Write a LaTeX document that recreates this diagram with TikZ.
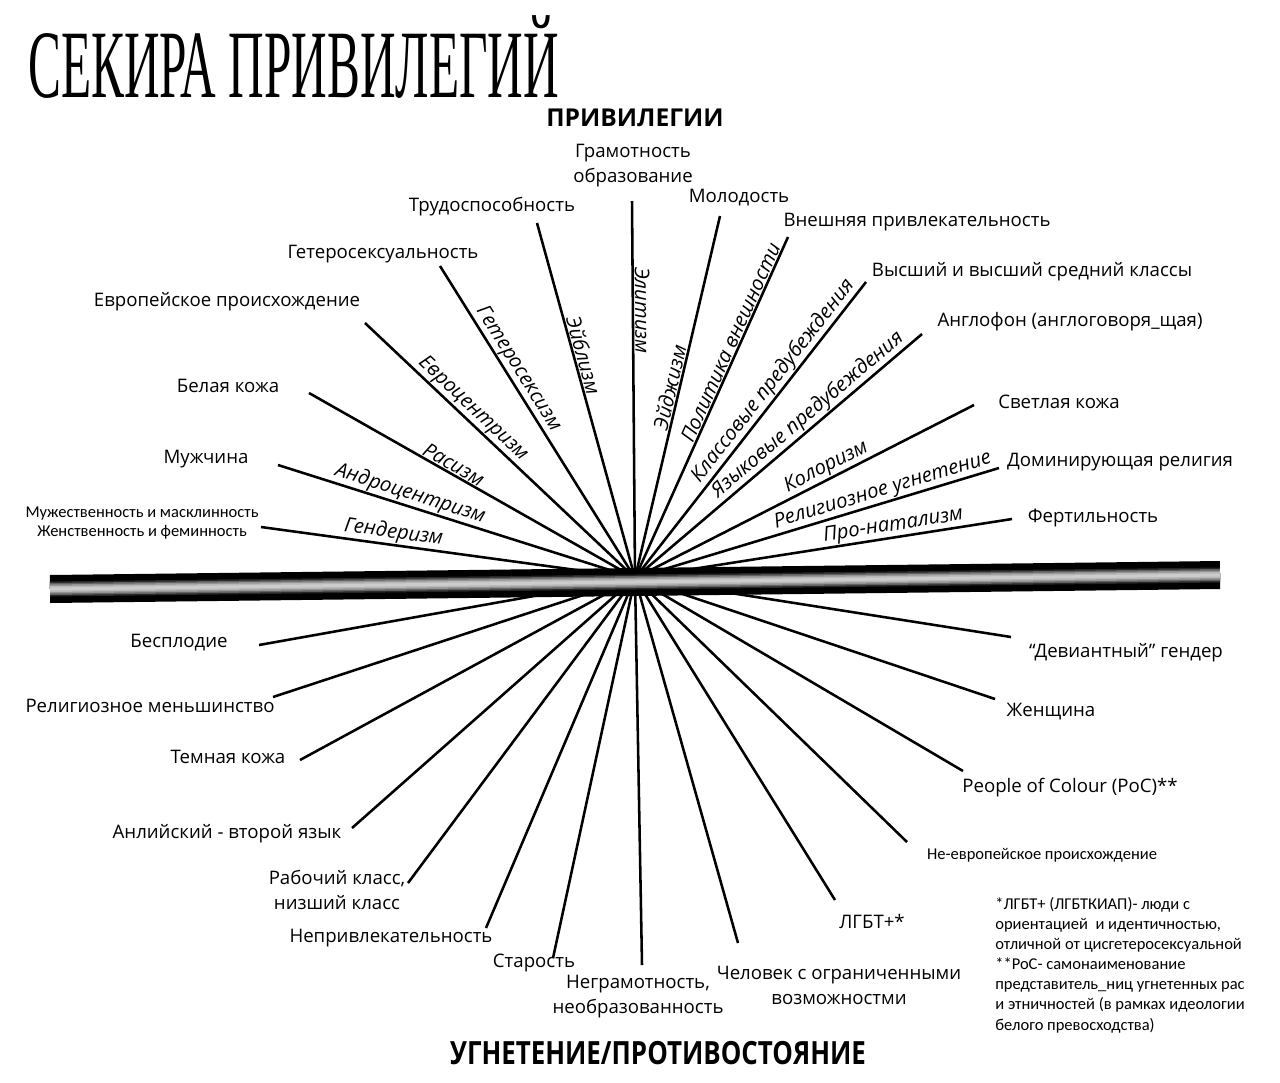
\documentclass[tikz,border=0pt]{standalone}
\usepackage{fontspec}
\setmainfont{Open Sans}
\newfontfamily\notefont{Carlito}
\newfontfamily\titlefont{Liberation Serif}
\usetikzlibrary{positioning}

\tikzset{
  spoke/.style={line width=1.45pt, black},
  lbl/.style={font=\fontsize{10.6}{14.2}\selectfont, inner sep=0pt, align=center},
  note/.style={font=\notefont\fontsize{9.4}{11.3}\selectfont, inner sep=0pt, align=center},
  ism/.style={font=\itshape\fontsize{11.5}{13}\selectfont, sloped, above, inner sep=1pt},
  head/.style={font=\bfseries\fontsize{14}{16}\selectfont, inner sep=0pt},
}

\begin{document}
\begin{tikzpicture}[x=0.02cm, y=-0.02cm]
  \useasboundingbox[fill=white] (0,0) rectangle (1280,1082);

  % Hub and spoke ends
  \coordinate (hub) at (635,578);
  \coordinate (eGend)   at (261,527);
  \coordinate (eMan)    at (278,465);
  \coordinate (eWhite)  at (309,393);
  \coordinate (eEuro)   at (365,323);
  \coordinate (eHetero) at (440,266);
  \coordinate (eAble)   at (537,223);
  \coordinate (eGram)   at (632,201);
  \coordinate (eYoung)  at (720,216);
  \coordinate (eBeauty) at (788,237);
  \coordinate (eClass)  at (866,282);
  \coordinate (eAnglo)  at (922,334);
  \coordinate (eLight)  at (974,405);
  \coordinate (eRelig)  at (999,468);
  \coordinate (eFert)   at (1012,519);
  \coordinate (eInfert) at (259,645);
  \coordinate (eMinor)  at (273,697);
  \coordinate (eDark)   at (300,760);
  \coordinate (eSecond) at (352,828);
  \coordinate (eWork)   at (408,883);
  \coordinate (eUgly)   at (486,928);
  \coordinate (eOld)    at (553,958);
  \coordinate (eIllit)  at (642,965);
  \coordinate (eDisab)  at (738,943);
  \coordinate (eLgbt)   at (835,900);
  \coordinate (eNonEu)  at (907,842);
  \coordinate (ePoc)    at (963,771);
  \coordinate (eWoman)  at (995,699);
  \coordinate (eDev)    at (1011,637);
  \coordinate (barL) at (50,589);
  \coordinate (barR) at (1220,575);

  % Title and headings
  \node[anchor=base west, inner sep=0pt, font=\titlefont\fontsize{55}{60}\selectfont]
    (title) at (28,97) {\scalebox{0.51}[1]{СЕКИРА ПРИВИЛЕГИЙ}};
  \node[head] (priv) at (635,118) {ПРИВИЛЕГИИ};

  % Privilege labels
  \node[lbl] (gram)   at (633,166) {Грамотность\\образование};
  \node[lbl] (young)  at (739,198) {Молодость};
  \node[lbl] (beauty) at (917,222) {Внешняя привлекательность};
  \node[lbl] (class)  at (1032,272) {Высший и высший средний классы};
  \node[lbl] (anglo)  at (1070,322) {Англофон (англоговоря\_щая)};
  \node[lbl] (light)  at (1059,402) {Светлая кожа};
  \node[lbl] (relig)  at (1120,462) {Доминирующая религия};
  \node[lbl] (fert)   at (1093,518) {Фертильность};
  \node[lbl] (able)   at (492,207) {Трудоспособность};
  \node[lbl] (hetero) at (383,254) {Гетеросексуальность};
  \node[lbl] (euro)   at (227,302) {Европейское происхождение};
  \node[lbl] (white)  at (228,386) {Белая кожа};
  \node[lbl] (man)    at (206,459) {Мужчина};
  \node[note] (gend)  at (142,523) {Мужественность и масклинность\\Женственность и феминность};

  % Oppression labels
  \node[lbl] (infert) at (179,643) {Бесплодие};
  \node[lbl] (minor)  at (150,706) {Религиозное меньшинство};
  \node[lbl] (dark)   at (228,757) {Темная кожа};
  \node[lbl] (second) at (227,834) {Анлийский - второй язык};
  \node[lbl] (work)   at (337,890) {Рабочий класс,\\низший класс};
  \node[lbl] (ugly)   at (391,938) {Непривлекательность};
  \node[lbl] (old)    at (534,963) {Старость};
  \node[lbl] (illit)  at (638,997) {Неграмотность,\\необразованность};
  \node[lbl] (disab)  at (839,985) {Человек с ограниченными\\возможностми};
  \node[lbl] (lgbt)   at (872,922) {ЛГБТ+*};
  \node[note] (noneu) at (1042,855) {Не-европейское происхождение};
  \node[lbl] (poc)    at (1070,788) {People of Colour (PoC)**};
  \node[lbl] (woman)  at (1051,712) {Женщина};
  \node[lbl] (dev)    at (1126,653) {“Девиантный” гендер};
  \node[note, align=left, anchor=west, font=\notefont\fontsize{9.4}{11.45}\selectfont]
    (foot) at (995,965) {*ЛГБТ+ (ЛГБТКИАП)- люди с\\ориентацией\ \ и идентичностью,\\отличной от цисгетеросексуальной\\**PoC- самонаименование\\представитель\_ниц угнетенных рас\\и этничностей (в рамках идеологии\\белого превосходства)};
  \node[head, font=\bfseries\fontsize{18.2}{20}\selectfont]
    (oppr) at (658,1053) {\scalebox{0.81}[1]{УГНЕТЕНИЕ/ПРОТИВОСТОЯНИЕ}};

  % Connect the spokes
  \foreach \e in {eGend,eMan,eWhite,eEuro,eHetero,eAble,eGram,eYoung,eBeauty,eClass,
                  eAnglo,eLight,eRelig,eFert,eInfert,eMinor,eDark,eSecond,eWork,eUgly,
                  eOld,eIllit,eDisab,eLgbt,eNonEu,ePoc,eWoman,eDev}
    \draw[spoke] (hub) -- (\e);

  % Oppression names along the spokes
  \path (eGend)   -- (hub) node[ism, pos=0.35] {Гендеризм};
  \path (eMan)    -- (hub) node[ism, pos=0.36] {Андроцентризм};
  \path (eWhite)  -- (hub) node[ism, pos=0.43] {Расизм};
  \path (eEuro)   -- (hub) node[ism, pos=0.37] {Евроцентризм};
  \path (eHetero) -- (hub) node[ism, pos=0.35] {Гетеросексизм};
  \path (eAble)   -- (hub) node[ism, pos=0.38] {Эйблизм};
  \path (eGram)   -- (hub) node[ism, pos=0.29] {Элитизм};
  \path (hub) -- (eYoung)  node[ism, pos=0.52] {Эйджизм};
  \path (hub) -- (eBeauty) node[ism, pos=0.68] {Политика внешности};
  \path (hub) -- (eClass)  node[ism, pos=0.64] {Классовые предубеждения};
  \path (hub) -- (eAnglo)  node[ism, pos=0.63] {Языковые предубеждения};
  \path (hub) -- (eLight)  node[ism, pos=0.58] {Колоризм};
  \path (hub) -- (eRelig)  node[ism, pos=0.69] {Религиозное угнетение};
  \path (hub) -- (eFert)   node[ism, pos=0.69] {Про-натализм};

  % The axis bar, black edges and a pale middle
  \foreach \w/\c in {0.56/100, 0.30/85, 0.24/62, 0.18/42, 0.12/28, 0.06/20}
    \draw[line width=\w cm, black!\c] (barL) -- (barR);
\end{tikzpicture}
\end{document}
